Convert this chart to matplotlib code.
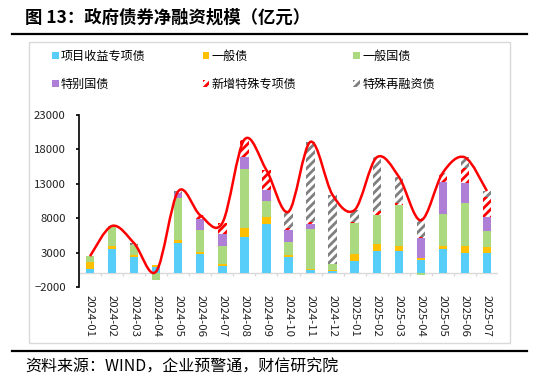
import numpy as np
import matplotlib
matplotlib.use("Agg")
import matplotlib.pyplot as plt
from matplotlib.patches import Patch, Rectangle
from matplotlib.path import Path
from matplotlib.patches import PathPatch
from matplotlib.lines import Line2D

plt.rcParams["font.family"] = ["Noto Sans CJK SC", "DejaVu Sans"]
plt.rcParams["hatch.linewidth"] = 2.0

# %% data (亿元)
months = ["2024-01", "2024-02", "2024-03", "2024-04", "2024-05", "2024-06",
          "2024-07", "2024-08", "2024-09", "2024-10", "2024-11", "2024-12",
          "2025-01", "2025-02", "2025-03", "2025-04", "2025-05", "2025-06",
          "2025-07"]
project_bonds = [550, 3490, 2330, 880, 4360, 2770, 980, 5230, 7170, 2430,
                 445, 300, 1850, 3200, 3200, 1990, 3490, 3010, 2960]
general_bonds = [1150, 480, 290, 290, 440, 330, 380, 1400, 1010, 240,
                 240, 145, 1010, 1110, 730, 290, 440, 1020, 870]
treasury_bonds = [780, 2810, 1450, -1000, 6090, 3150, 2660, 8510, 2320, 1930,
                  5710, 870, 4500, 4110, 6000, -280, 4640, 6140, 2370]
special_treasury = [0, 0, 0, 0, 820, 1640, 1690, 1690, 1640, 1690,
                    770, 0, 0, 0, 0, 2800, 4740, 2900, 2030]
new_special_bonds = [0, 0, 0, 0, 0, 530, 1600, 2600, 2850, 340,
                     290, 0, 140, 630, 340, 240, 970, 2270, 2900]
refinance_bonds = [0, 100, 290, 90, 200, 0, 0, 0, 0, 2320,
                   11650, 10060, 1700, 7790, 3770, 2660, 340, 1500, 820]

series = [
    ("项目收益专项债", project_bonds, "#57CEFA", None, None),
    ("一般债", general_bonds, "#FFC000", None, None),
    ("一般国债", treasury_bonds, "#AAD97F", None, None),
    ("特别国债", special_treasury, "#AF7FD7", None, None),
    ("新增特殊专项债", new_special_bonds, "white", "////", "#FF0000"),
    ("特殊再融资债", refinance_bonds, "white", "////", "#7F7F7F"),
]


def smooth_path(xs, ys):
    """Excel-like smoothed line as cubic Bezier segments through the points."""
    pts = np.column_stack([xs, ys]).astype(float)
    verts = [pts[0]]
    codes = [Path.MOVETO]
    n = len(pts)
    for i in range(n - 1):
        p0 = pts[i - 1] if i > 0 else pts[i]
        p1, p2 = pts[i], pts[i + 1]
        p3 = pts[i + 2] if i + 2 < n else pts[i + 1]
        verts += [p1 + (p2 - p0) / 6, p2 - (p3 - p1) / 6, p2]
        codes += [Path.CURVE4] * 3
    return Path(verts, codes)


fig = plt.figure(figsize=(5.5, 3.81), dpi=100)
ax = fig.add_axes([79 / 550, 1 - 287 / 381, 419 / 550, 172 / 381])

x = np.arange(len(months))
pos_base = np.zeros(len(months))
neg_base = np.zeros(len(months))
handles = []
for name, vals, fc, hatch, hc in series:
    vals = np.array(vals, dtype=float)
    bottom = np.where(vals >= 0, pos_base, neg_base)
    if hatch:
        ax.bar(x, vals, width=0.38, bottom=bottom, facecolor=fc,
               edgecolor=hc, hatch=hatch, linewidth=0, zorder=2)
        handles.append(Patch(facecolor=fc, edgecolor=hc, hatch="////",
                             linewidth=0, label=name))
    else:
        ax.bar(x, vals, width=0.38, bottom=bottom, color=fc, linewidth=0,
               zorder=2)
        handles.append(Patch(facecolor=fc, linewidth=0, label=name))
    pos_base += np.where(vals >= 0, vals, 0)
    neg_base += np.where(vals < 0, vals, 0)

total = pos_base + neg_base
ax.add_patch(PathPatch(smooth_path(x, total), facecolor="none",
                       edgecolor="#FF0000", lw=1.8, zorder=4))

# zero line with category-boundary ticks
ax.axhline(0, color="#D9D9D9", lw=1, zorder=1)
ax.vlines(np.arange(-0.5, len(months)), -430, 0, color="#D9D9D9", lw=1,
          zorder=1)

ax.set_xlim(-0.5, len(months) - 0.5)
ax.set_ylim(-2000, 23000)
ax.set_yticks(np.arange(-2000, 23001, 5000))
ax.set_xticks(x)
ax.set_xticklabels(months, rotation=-90, fontsize=8.2, color="#222222")
ax.tick_params(axis="x", length=0, pad=5.5)
ax.tick_params(axis="y", direction="out", length=2.5, width=1.2,
               labelsize=8.2, pad=7, colors="black", labelcolor="#222222")
for s in ["top", "right", "bottom"]:
    ax.spines[s].set_visible(False)
ax.spines["left"].set_linewidth(1.2)

# legend: order for column-wise fill with 3 columns
order = [0, 3, 1, 4, 2, 5]
fig.legend([handles[i] for i in order], [handles[i].get_label() for i in order],
           ncol=3, loc="upper left", bbox_to_anchor=(52 / 550, 1 - 50 / 381),
           frameon=False, fontsize=8.7, handlelength=0.55, handleheight=0.55,
           handletextpad=0.2, columnspacing=4.7, labelspacing=1.25,
           borderpad=0, borderaxespad=0)

# outer chart frame
fig.patches.append(Rectangle((29 / 550, 1 - 343 / 381), 481 / 550, 301 / 381,
                             transform=fig.transFigure, fill=False,
                             edgecolor="#D9D9D9", lw=1))

# title and rules
fig.text(25 / 550, 1 - 18 / 381, "图 13：政府债券净融资规模（亿元）",
         fontsize=12.5, fontweight="bold", va="center", ha="left")
fig.add_artist(Line2D([12 / 550, 527 / 550], [1 - 34 / 381] * 2,
                      transform=fig.transFigure, color="black", lw=1.6))
fig.add_artist(Line2D([12 / 550, 527 / 550], [1 - 351 / 381] * 2,
                      transform=fig.transFigure, color="black", lw=1.6))
fig.text(25 / 550, 1 - 367 / 381, "资料来源：WIND，企业预警通，财信研究院",
         fontsize=11.5, style="italic", va="center", ha="left")

fig.savefig("out.png", dpi=100)
